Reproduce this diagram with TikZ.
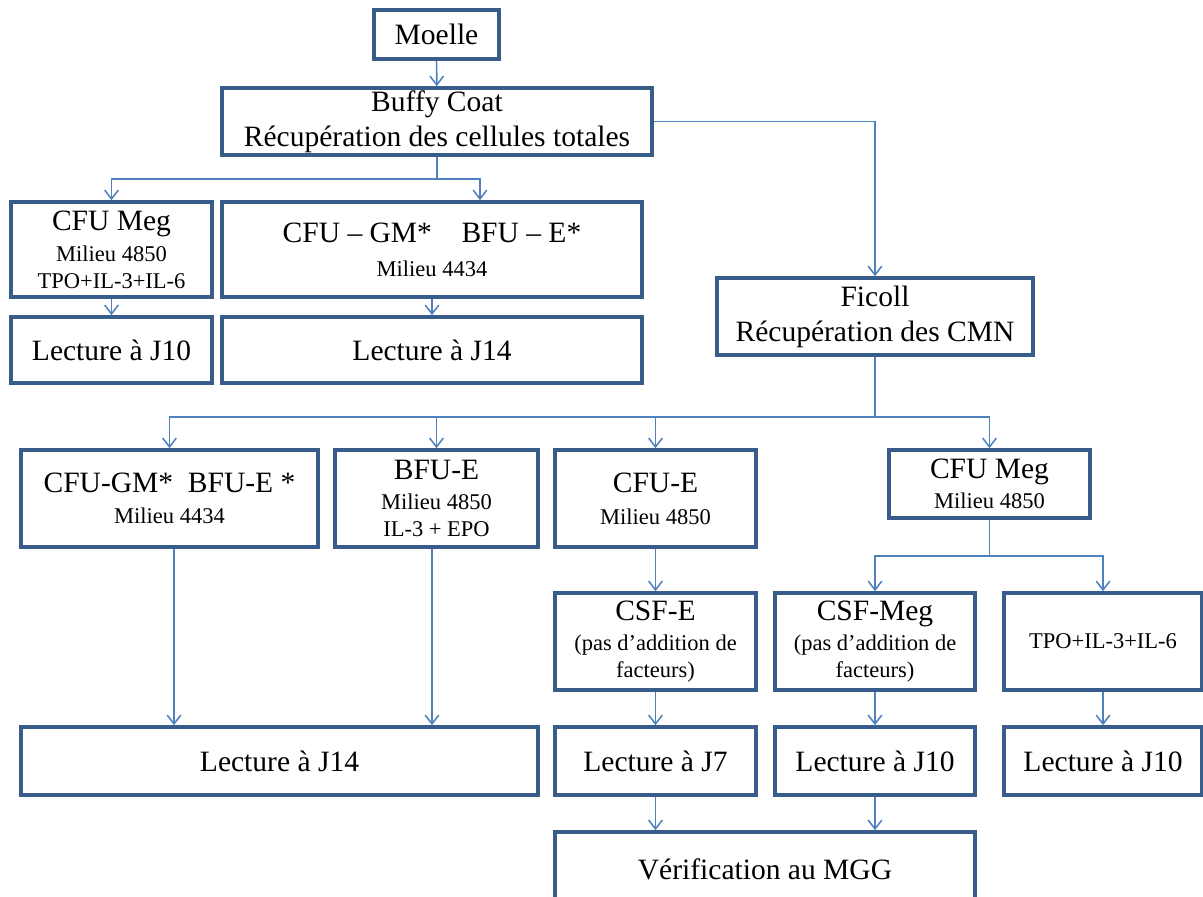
\documentclass[tikz,border=0pt]{standalone}
\usepackage{fontspec}
\setmainfont{Liberation Serif}
\usetikzlibrary{arrows.meta}
\definecolor{boxblue}{RGB}{56,93,138}
\definecolor{arrblue}{RGB}{79,129,189}
\newcommand{\bigf}{\fontsize{21}{25}\selectfont}
\newcommand{\smallf}{\fontsize{16}{20}\selectfont}
\begin{document}
\begin{tikzpicture}[x=0.025cm,y=-0.025cm,
    box/.style={draw=boxblue,line width=2.6pt,align=center,inner sep=0pt,font=\bigf},
    sz/.style 2 args={minimum width=#1*0.025cm,minimum height=#2*0.025cm},
    arr/.style={draw=arrblue,line width=1.1pt,-{Straight Barb[length=2.2mm,width=3.4mm]}}]
  \useasboundingbox (0,0) rectangle (1203,896);
  \clip (0,0) rectangle (1203,896);

  \node[box,sz={125}{49}] (moelle) at (436.5,34.5) {Moelle};
  \node[box,sz={430}{67}] (buffy) at (437,121.5) {Buffy Coat\\Récupération des cellules totales};
  \node[box,sz={201}{95}] (cfumeg1) at (111.5,249.5) {CFU Meg\\[-3pt]\smallf Milieu 4850\\[-6pt]\smallf TPO+IL-3+IL-6};
  \node[box,sz={420}{95}] (cfugm1) at (432,249.5) {CFU – GM*\quad BFU – E*\\[-1pt]\smallf Milieu 4434};
  \node[box,sz={201}{66}] (lecj10a) at (111.5,350) {Lecture à J10};
  \node[box,sz={420}{66}] (lecj14a) at (432,350) {Lecture à J14};
  \node[box,sz={316}{77}] (ficoll) at (875,316.5) {Ficoll\\Récupération des CMN};

  \node[box,sz={297}{97}] (cfugm2) at (169.5,498.5) {CFU-GM*\ \ BFU-E *\\[-3pt]\smallf Milieu 4434};
  \node[box,sz={203}{97}] (bfue) at (436.5,498.5) {BFU-E\\[-4pt]\smallf Milieu 4850\\[-6pt]\smallf IL-3 + EPO};
  \node[box,sz={201}{97}] (cfue) at (655.5,498.5) {CFU-E\\[-2pt]\smallf Milieu 4850};
  \node[box,sz={201}{68}] (cfumeg2) at (989.5,484) {CFU Meg\\[-4pt]\smallf Milieu 4850};
  \node[box,sz={201}{97}] (csfe) at (655.5,641.5) {CSF-E\\[-4pt]\smallf (pas d’addition de\\[-6pt]\smallf facteurs)};
  \node[box,sz={200}{97}] (csfmeg) at (875,641.5) {CSF-Meg\\[-4pt]\smallf (pas d’addition de\\[-6pt]\smallf facteurs)};
  \node[box,sz={198}{97},font=\smallf] (tpo) at (1103,641.5) {TPO+IL-3+IL-6};
  \node[box,sz={517}{68}] (lecj14b) at (279.5,761) {Lecture à J14};
  \node[box,sz={201}{68}] (lecj7) at (655.5,761) {Lecture à J7};
  \node[box,sz={200}{68}] (lecj10b) at (875,761) {Lecture à J10};
  \node[box,sz={198}{68}] (lecj10c) at (1103,761) {Lecture à J10};
  \node[box,sz={420}{74}] (verif) at (765,869) {Vérification au MGG};

  \coordinate (j1) at (437,179);
  \coordinate (j2) at (875,417);
  \coordinate (j3) at (989.5,556);

  \draw[arr] (moelle) -- (buffy);
  \draw[arr] (buffy.south) -- (j1) -| (cfumeg1.north);
  \draw[arr] (j1) -| (cfugm1.north -| 480,0);
  \draw[arr] (buffy.east) -| (ficoll.north);
  \draw[arr] (cfumeg1) -- (lecj10a);
  \draw[arr] (cfugm1) -- (lecj14a);

  \draw[arr] (ficoll.south) -- (j2) -| (cfugm2.north);
  \draw[arr] (j2) -| (bfue.north);
  \draw[arr] (j2) -| (cfue.north);
  \draw[arr] (j2) -| (cfumeg2.north);

  \draw[arr] (cfugm2.south -| 174,0) -- (lecj14b.north -| 174,0);
  \draw[arr] (bfue.south -| 432,0) -- (lecj14b.north -| 432,0);
  \draw[arr] (cfue) -- (csfe);
  \draw[arr] (cfumeg2.south) -- (j3) -| (csfmeg.north);
  \draw[arr] (j3) -| (tpo.north);
  \draw[arr] (csfe) -- (lecj7);
  \draw[arr] (csfmeg) -- (lecj10b);
  \draw[arr] (tpo) -- (lecj10c);
  \draw[arr] (lecj7.south) -- (lecj7.south |- verif.north);
  \draw[arr] (lecj10b.south) -- (lecj10b.south |- verif.north);
\end{tikzpicture}
\end{document}
